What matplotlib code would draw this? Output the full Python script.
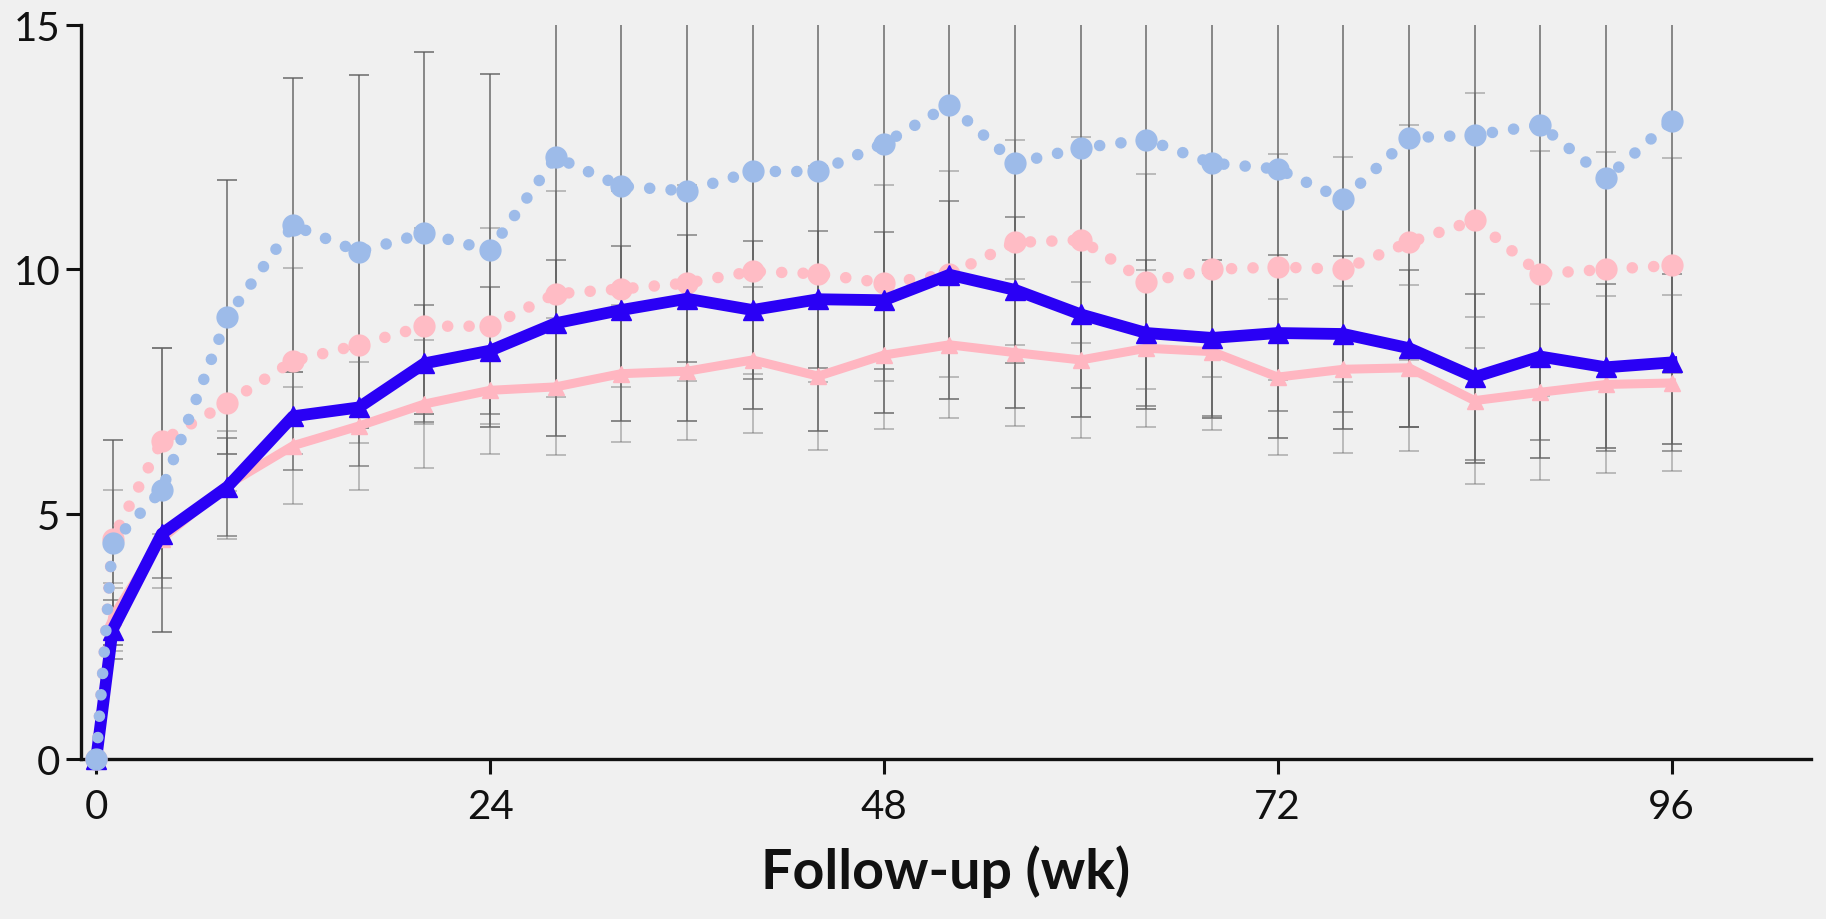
import matplotlib
matplotlib.use("Agg")
import matplotlib.pyplot as plt

weeks = [0, 1, 4, 8, 12, 16, 20, 24, 28, 32, 36, 40, 44, 48, 52, 56, 60, 64, 68, 72, 76, 80, 84, 88, 92, 96]

blue_dotted = [0, 4.42, 5.49, 9.03, 10.9, 10.36, 10.74, 10.39, 12.29, 11.7, 11.6, 12.0, 12.0, 12.57,
               13.36, 12.17, 12.48, 12.65, 12.17, 12.05, 11.43, 12.69, 12.74, 12.95, 11.86, 13.03]
blue_dotted_err = [0, 2.1, 2.9, 2.8, 3.0, 3.6, 3.7, 3.6, 5.7, 4.8, 4.7, 4.85, 5.3, 5.5, 6.0, 5.0,
                   5.5, 5.5, 5.2, 5.5, 4.7, 5.9, 6.7, 6.8, 5.5, 6.6]

pink_dotted = [0, 4.49, 6.5, 7.27, 8.13, 8.46, 8.84, 8.84, 9.5, 9.6, 9.72, 9.96, 9.91, 9.72,
               9.9, 10.55, 10.6, 9.75, 10.0, 10.05, 10.0, 10.55, 11.0, 9.91, 10.0, 10.08]
pink_dotted_err = [0, 1.0, 1.9, 1.8, 1.9, 2.0, 2.0, 2.0, 2.1, 2.0, 2.0, 2.1, 2.2, 2.0, 2.1, 2.1,
                   2.1, 2.2, 2.2, 2.3, 2.3, 2.4, 2.6, 2.5, 2.4, 2.2]

blue_solid = [0, 2.64, 4.6, 5.56, 7.0, 7.18, 8.08, 8.34, 8.9, 9.17, 9.4, 9.17, 9.39, 9.37,
              9.89, 9.58, 9.08, 8.7, 8.6, 8.7, 8.68, 8.39, 7.8, 8.22, 8.0, 8.1]
blue_solid_err = [0, 0.6, 0.9, 1.0, 1.1, 1.2, 1.2, 1.3, 1.3, 1.3, 1.3, 1.4, 1.4, 1.4, 1.5, 1.5,
                  1.5, 1.5, 1.6, 1.6, 1.6, 1.6, 1.7, 1.7, 1.7, 1.8]

pink_solid = [0, 2.9, 4.5, 5.6, 6.4, 6.8, 7.25, 7.53, 7.6, 7.87, 7.92, 8.15, 7.82, 8.25,
              8.46, 8.3, 8.15, 8.39, 8.32, 7.8, 7.96, 7.99, 7.32, 7.49, 7.65, 7.68]
pink_solid_err = [0, 0.7, 1.0, 1.1, 1.2, 1.3, 1.3, 1.3, 1.4, 1.4, 1.4, 1.5, 1.5, 1.5, 1.5, 1.5,
                  1.6, 1.6, 1.6, 1.6, 1.7, 1.7, 1.7, 1.8, 1.8, 1.8]

x_ticks = [0, 24, 48, 72, 96]
y_ticks = [0, 5, 10, 15]
x_label = "Follow-up (wk)"

BG = "#f0f0f0"
plt.rcParams['font.family'] = ['Lato', 'DejaVu Sans']

fig = plt.figure(figsize=(18.26, 9.20), dpi=100, facecolor=BG)
ax = fig.add_axes([0.0444, 0.1739, 0.9474, 0.7983], facecolor=BG)

# error bars
for vals, errs, col, a in [(blue_dotted, blue_dotted_err, "#5a5a5a", 0.7),
                           (pink_dotted, pink_dotted_err, "#6a6a6a", 0.4),
                           (blue_solid, blue_solid_err, "#555555", 0.55),
                           (pink_solid, pink_solid_err, "#6a6a6a", 0.4)]:
    ax.errorbar(weeks[1:], vals[1:], yerr=errs[1:], fmt='none', ecolor=col, alpha=a,
                elinewidth=1.4, capsize=7.5, capthick=1.4, zorder=1)

# lines
ax.plot(weeks, pink_solid, color="#ffb6c1", lw=6.5, marker='^', markersize=12,
        zorder=2, clip_on=False)
ax.plot(weeks, pink_dotted, color="#ffbcc5", lw=8.3, linestyle=(0, (0.01, 1.85)),
        dash_capstyle='round', marker='o', markersize=15, zorder=3, clip_on=False)
ax.plot(weeks, blue_solid, color="#2a00f5", lw=8.5, marker='^', markersize=14,
        zorder=4, clip_on=False)
ax.plot(weeks, blue_dotted, color="#9dbbe9", lw=8.3, linestyle=(0, (0.01, 1.85)),
        dash_capstyle='round', marker='o', markersize=15, zorder=5, clip_on=False)

ax.set_xlim(-0.92, 104.5)
ax.set_ylim(0, 15)
ax.set_xticks(x_ticks)
ax.set_yticks(y_ticks)

for s in ['top', 'right']:
    ax.spines[s].set_visible(False)
for s in ['left', 'bottom']:
    ax.spines[s].set_linewidth(2.4)
    ax.spines[s].set_color("#111111")

ax.tick_params(axis='both', direction='out', length=11, width=2.2, color="#111111",
               labelsize=29, labelcolor="#111111")
ax.tick_params(axis='x', pad=10)
ax.tick_params(axis='y', pad=4)

ax.set_xlabel(x_label, fontsize=40, fontweight='bold', color="#111111", labelpad=14)

fig.savefig("out.png", dpi=100, facecolor=BG)
